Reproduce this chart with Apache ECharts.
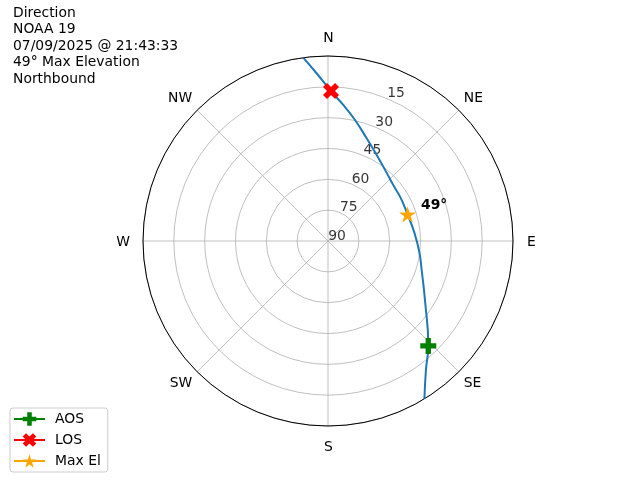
<!DOCTYPE html>
<html>
<head>
<meta charset="utf-8">
<script src="https://cdn.jsdelivr.net/npm/echarts@6/dist/echarts.min.js"></script>
<style>html,body{margin:0;padding:0;background:#fff}#c{width:640px;height:480px}</style>
</head>
<body>
<div id="c"></div>
<script>
// ---- data ----
const titleLines = ['Direction', 'NOAA 19', '07/09/2025 @ 21:43:33', '49° Max Elevation', 'Northbound'];
const directions = ['N', 'NE', 'E', 'SE', 'S', 'SW', 'W', 'NW'];
const elevTicks = [15, 30, 45, 60, 75, 90];
const trackEl = [0, 11.2, 19.4, 34.8, 42.3, 45.3, 47.9, 49.2, 48.9, 48.2, 46.0, 41.9, 36.6, 29.7, 23.4, 17.0, 8.2, 0];
const trackAz = [148.6, 142.8, 136.3, 121.3, 107.2, 96.7, 83.8, 71.5, 59.3, 49.4, 39.9, 29.5, 20.6, 12.6, 6.4, 1.15, 356.1, 352.3];
const aosPoint = [19.4, 136.3];
const losPoint = [17.0, 1.15];
const maxPoint = [49.2, 71.5];
const maxLabel = '49°';
const labelAngle = 22.5;

const FONT = 'DejaVu Sans';
const FS = 13.9;
const plusPath = 'path://M-1,-3L1,-3L1,-1L3,-1L3,1L1,1L1,3L-1,3L-1,1L-3,1L-3,-1L-1,-1Z';
const xPath = 'path://M-1,-2L0,-1L1,-2L2,-1L1,0L2,1L1,2L0,1L-1,2L-2,1L-1,0L-2,-1Z';
const starPath = 'path://M0,-1L0.2245,-0.309L0.951,-0.309L0.363,0.118L0.588,0.809L0,0.382L-0.588,0.809L-0.363,0.118L-0.951,-0.309L-0.2245,-0.309Z';

const chart = echarts.init(document.getElementById('c'), null, {renderer: 'canvas'});
const option = {
  animation: false,
  textStyle: {fontFamily: FONT},
  title: {
    text: titleLines.join('\n'),
    left: 13, top: 5, padding: 0,
    textStyle: {fontFamily: FONT, fontSize: FS, fontWeight: 'normal', color: '#000', lineHeight: 16.5}
  },
  legend: {
    data: ['AOS', 'LOS', 'Max El'],
    orient: 'vertical',
    left: 10, bottom: 8,
    padding: [4, 7, 4, 3],
    itemWidth: 31, itemHeight: 17, itemGap: 7,
    borderColor: '#cccccc', borderWidth: 1, borderRadius: 3,
    backgroundColor: 'rgba(255,255,255,0.8)',
    textStyle: {fontFamily: FONT, fontSize: FS, color: '#000', padding: [0, 0, 0, 5]}
  },
  polar: {center: [328, 241], radius: 185},
  angleAxis: {
    type: 'value', min: 0, max: 360, interval: 45,
    startAngle: 90, clockwise: true,
    axisLine: {show: true, lineStyle: {color: '#000', width: 1}},
    axisTick: {show: false},
    axisLabel: {
      margin: 7, color: '#000', fontFamily: FONT, fontSize: FS,
      formatter: function (v) {
        const i = Math.round(v / 45);
        if (i >= directions.length) return '';
        return i % 2 === 0 ? '{c|' + directions[i] + '}' : '{d|' + directions[i] + '}';
      },
      rich: {
        c: {padding: [7, 6, 4, 7], fontFamily: FONT, fontSize: FS, color: '#000'},
        d: {fontFamily: FONT, fontSize: FS, color: '#000'}
      }
    },
    splitLine: {show: true, lineStyle: {color: '#b0b0b0', width: 0.8}}
  },
  radiusAxis: {
    type: 'value', min: 0, max: 90, interval: 15, inverse: true,
    axisLine: {show: false}, axisTick: {show: false}, axisLabel: {show: false},
    splitLine: {show: true, lineStyle: {color: '#b0b0b0', width: 0.8}}
  },
  series: [
    {
      name: 'rlabels', type: 'scatter', coordinateSystem: 'polar',
      symbolSize: 1, itemStyle: {color: 'rgba(0,0,0,0)'}, silent: true,
      data: elevTicks.map(v => [v, labelAngle]),
      label: {show: true, position: 'inside', offset: [9, -5], color: '#000', fontFamily: FONT, fontSize: FS,
        formatter: p => String(p.value[0])},
      z: 3
    },
    {
      name: 'track', type: 'line', coordinateSystem: 'polar',
      data: trackEl.map((e, i) => [e, trackAz[i]]),
      showSymbol: false, symbol: 'none', smooth: 0.5,
      lineStyle: {color: '#1f77b4', width: 2}, z: 4
    },
    {
      name: 'AOS', type: 'line', coordinateSystem: 'polar',
      data: [aosPoint], symbol: plusPath, symbolSize: 16, symbolKeepAspect: true,
      itemStyle: {color: 'green'}, lineStyle: {color: 'green', width: 2}, z: 5
    },
    {
      name: 'LOS', type: 'line', coordinateSystem: 'polar',
      data: [losPoint], symbol: xPath, symbolSize: 16, symbolKeepAspect: true,
      itemStyle: {color: 'red'}, lineStyle: {color: 'red', width: 2}, z: 5
    },
    {
      name: 'Max El', type: 'line', coordinateSystem: 'polar',
      data: [maxPoint], symbol: starPath, symbolSize: 17, symbolKeepAspect: true,
      itemStyle: {color: 'orange'}, lineStyle: {color: 'orange', width: 2}, z: 5,
      label: {show: true, position: 'right', offset: [0, -9], formatter: maxLabel,
        fontFamily: FONT, fontSize: FS, fontWeight: 'bold', color: '#000'}
    }
  ]
};
chart.setOption(option);
</script>
</body>
</html>
